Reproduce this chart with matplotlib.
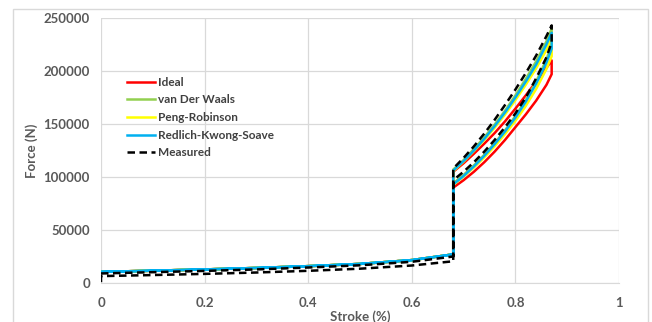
import numpy as np
import matplotlib.pyplot as plt
from matplotlib.patches import Rectangle

plt.rcParams["font.family"] = ["Lato", "DejaVu Sans"]

# stroke positions (fraction), low-pressure part and high-pressure part
S_LOW = [0, 0.1, 0.2, 0.3, 0.4, 0.5, 0.6, 0.68]
S_HIGH = [0.68, 0.70, 0.72, 0.74, 0.76, 0.78, 0.80, 0.82, 0.84, 0.86, 0.87]

# model low-pressure branch (same for compression and expansion)
MODEL_LOW = [10500, 11600, 12800, 14200, 15900, 18000, 21600, 27000]

IDEAL_UP = [105000, 113000, 122000, 131500, 141500, 152500, 164500, 177000, 190000, 203000, 210000]
IDEAL_DOWN = [90000, 97000, 105000, 114000, 124000, 135000, 147000, 159000, 172000, 187000, 197000]

VDW_UP = [107000, 116000, 126500, 137500, 149500, 162500, 177000, 192500, 209000, 228000, 240000]
VDW_DOWN = [94000, 102000, 111000, 121000, 132000, 144000, 157500, 172500, 190000, 211000, 225000]

PR_UP = [105500, 114500, 124500, 135000, 146500, 159000, 172500, 187000, 202500, 220000, 231000]
PR_DOWN = [92500, 100500, 109000, 118500, 129000, 140500, 153000, 167000, 183000, 202000, 214000]

RKS_UP = [106000, 115000, 125000, 136000, 148000, 161000, 175000, 190000, 206000, 225000, 236000]
RKS_DOWN = [93000, 101000, 110000, 120000, 131000, 143000, 156000, 171000, 188000, 208000, 221000]

MEAS_LOW_UP = [9000, 10200, 11400, 12800, 14600, 16700, 20000, 25000]
MEAS_LOW_DOWN = [6500, 7500, 8600, 9900, 11500, 13500, 16500, 20500]
MEAS_UP = [108000, 118000, 129000, 141000, 154000, 168000, 182500, 198000, 214500, 233000, 243000]
MEAS_DOWN = [97000, 105000, 114000, 124000, 135000, 147000, 160000, 175000, 193000, 213000, 227000]


def loop(low_up, high_up, high_down, low_down):
    s = S_LOW + S_HIGH + S_HIGH[::-1] + S_LOW[::-1]
    f = low_up + high_up + high_down[::-1] + low_down[::-1]
    return np.array(s), np.array(f)


fig = plt.figure(figsize=(6.52, 3.22), dpi=100)
ax = fig.add_axes([101 / 652, 1 - 283 / 322, 518 / 652, 265 / 322])

# outer chart border
fig.patches.append(Rectangle((13 / 652, -0.05), 635 / 652, 1.05 - 9 / 322,
                             transform=fig.transFigure, fill=False,
                             edgecolor="#D9D9D9", linewidth=1))

series = [
    ("Ideal", IDEAL_UP, IDEAL_DOWN, "#FF0000"),
    ("van Der Waals", VDW_UP, VDW_DOWN, "#92D050"),
    ("Peng-Robinson", PR_UP, PR_DOWN, "#FFFF00"),
    ("Redlich-Kwong-Soave", RKS_UP, RKS_DOWN, "#00B0F0"),
]
for name, up, down, col in series:
    s, f = loop(MODEL_LOW, up, down, MODEL_LOW)
    ax.plot(s, f, color=col, lw=1.8, label=name)

s, f = loop(MEAS_LOW_UP, MEAS_UP, MEAS_DOWN, MEAS_LOW_DOWN)
s = np.append(s, 0)
f = np.append(f, 0)
ax.plot(s, f, color="black", lw=1.8, ls=(0, (3, 1.8)), label="Measured")

ax.set_xlim(0, 1)
ax.set_ylim(0, 250000)
ax.set_xticks(np.arange(0, 1.01, 0.2))
ax.set_xticklabels(["0", "0.2", "0.4", "0.6", "0.8", "1"])
ax.set_yticks(np.arange(0, 250001, 50000))
ax.grid(True, color="#D9D9D9", lw=0.9)
ax.set_axisbelow(True)
for sp in ["top", "right", "left"]:
    ax.spines[sp].set_visible(False)
ax.spines["bottom"].set_color("#D9D9D9")
ax.tick_params(length=0, labelsize=9.5, labelcolor="#595959")
ax.tick_params(axis="x", pad=10)
ax.tick_params(axis="y", pad=8)
for lab in ax.get_xticklabels() + ax.get_yticklabels():
    lab.set_fontweight("bold")

ax.set_xlabel("Stroke (%)", fontsize=9.5, fontweight="bold", color="#595959", labelpad=1)
ax.set_ylabel("Force (N)", fontsize=9.5, fontweight="bold", color="#595959", labelpad=4)

ax.legend(loc="upper left", bbox_to_anchor=(0.03, 0.818), frameon=False,
          handlelength=2.4, handletextpad=0.25, labelspacing=0.56,
          prop={"size": 8.5, "weight": "bold"}, labelcolor="#404040")

fig.savefig("out.png", dpi=100)
